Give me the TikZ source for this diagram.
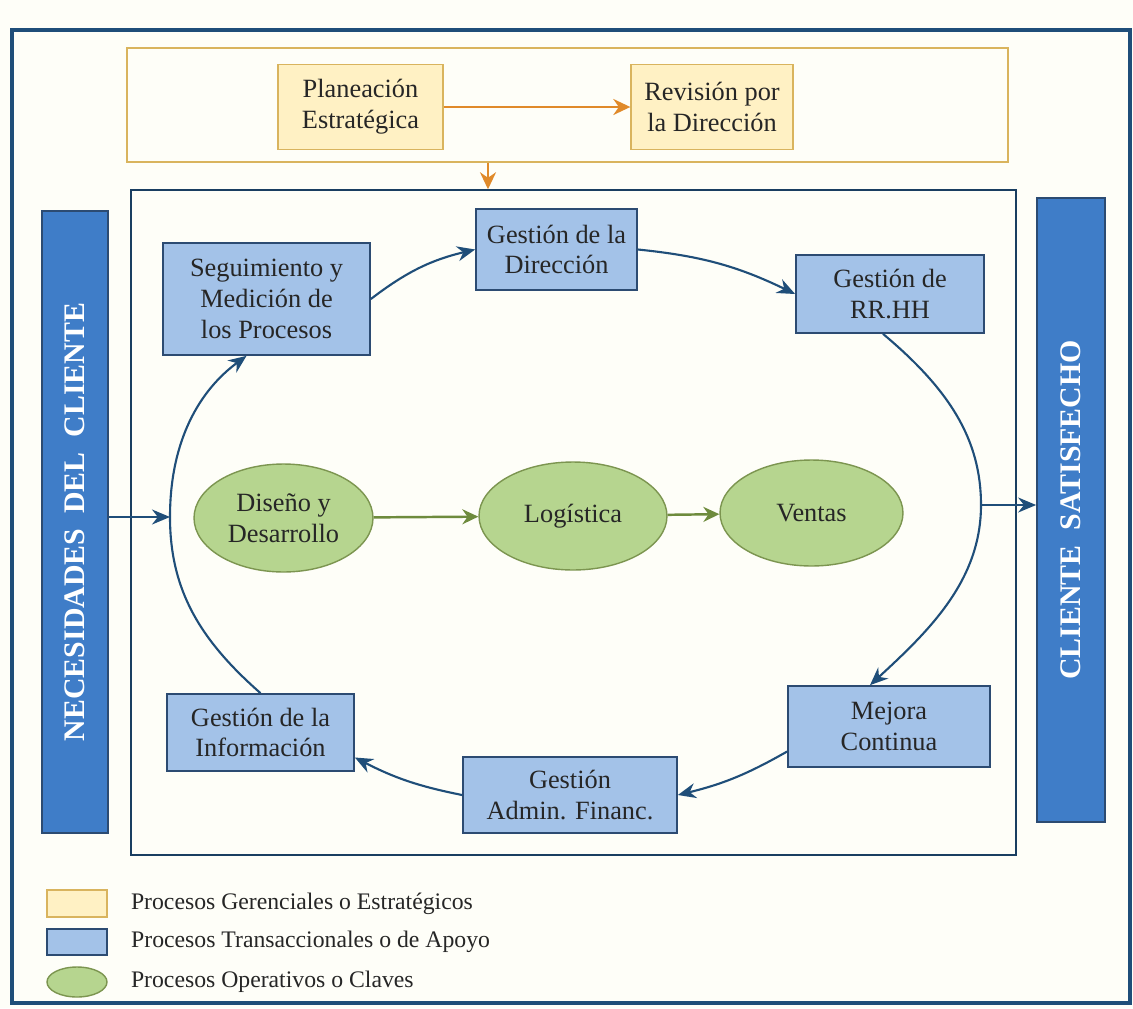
\documentclass[tikz,border=0pt]{standalone}
\usepackage{fontspec}
\setmainfont{Liberation Serif}
\usetikzlibrary{arrows.meta,positioning,shapes.geometric}

\definecolor{marcoazul}{HTML}{1F4E79}
\definecolor{oro}{HTML}{D9B45E}
\definecolor{crema}{HTML}{FFF1C4}
\definecolor{naranja}{HTML}{E08A2A}
\definecolor{azulclaro}{HTML}{A3C2E8}
\definecolor{azulborde}{HTML}{2C4B72}
\definecolor{azulbarra}{HTML}{3F7DC8}
\definecolor{verde}{HTML}{B6D58F}
\definecolor{verdeborde}{HTML}{7C9550}
\definecolor{verdeflecha}{HTML}{6E8B3D}
\definecolor{fondo}{HTML}{FEFEF8}
\definecolor{tinta}{HTML}{262626}

\tikzset{
	gerencial/.style={draw=oro, fill=crema, line width=0.8pt, align=center, inner sep=0pt,
		text=tinta, font=\fontsize{15}{17.5}\selectfont},
	apoyo/.style={draw=azulborde, fill=azulclaro, line width=1pt, align=center, inner sep=0pt,
		text=tinta, font=\fontsize{15}{17.5}\selectfont},
	clave/.style={ellipse, draw=verdeborde, fill=verde, line width=0.8pt, align=center, inner sep=0pt,
		text=tinta, font=\fontsize{15}{17.5}\selectfont},
	cliente/.style={draw=azulborde, fill=azulbarra, line width=1pt, rotate=90, text=white,
		font=\fontsize{17}{19}\selectfont\bfseries},
	marco/.style={draw, inner sep=0pt},
	flujo/.style={draw=marcoazul, line width=1.2pt, -{Stealth[length=0.36cm, width=0.3cm]}},
	flujoverde/.style={draw=verdeflecha, line width=1.4pt, -{Stealth[length=0.32cm, width=0.3cm]}},
	flujonaranja/.style={draw=naranja, line width=1.5pt, -{Stealth[length=0.34cm, width=0.32cm]}},
	leyenda/.style={inner sep=0pt, text=tinta, font=\fontsize{13.5}{15}\selectfont},
}

\begin{document}
\begin{tikzpicture}[x=0.02cm, y=0.02cm]
	\useasboundingbox (0,0) rectangle (1133,-1008);
	\fill[fondo] (0,0) rectangle (1133,-1008);
	\draw[marcoazul, line width=1.8pt] (12,-30) rectangle (1130,-1003);

	% procesos gerenciales
	\node[marco, draw=oro, line width=0.8pt, minimum width=17.62cm, minimum height=2.28cm] (gerencia) at (567.5,-105) {};
	\node[gerencial, minimum width=3.3cm, minimum height=1.7cm] (plan) at (360.5,-107) {Planeación\\Estratégica};
	\node[gerencial, minimum width=3.24cm, minimum height=1.7cm] (rev) at (712,-107) {Revisión por\\la Dirección};
	\draw[flujonaranja] (plan) -- (rev);

	% marco de procesos
	\node[marco, draw=marcoazul!80!black, line width=0.9pt, minimum width=17.7cm, minimum height=13.3cm] (interno) at (573.5,-522.5) {};
	\coordinate (baja) at (488,0);
	\draw[flujonaranja] (baja |- gerencia.south) -- (baja |- interno.north);

	% clientes
	\node[cliente, minimum width=12.44cm, minimum height=1.32cm] (nec) at (75,-522) {NECESIDADES\ \ DEL\ \ CLIENTE};
	\node[cliente, minimum width=12.48cm, minimum height=1.36cm] (sat) at (1071,-510) {CLIENTE\ \ SATISFECHO};

	% procesos de apoyo
	\node[apoyo, minimum width=4.14cm, minimum height=2.24cm] (seg) at (266.5,-299) {Seguimiento y\\Medición de\\los Procesos};
	\node[apoyo, minimum width=3.22cm, minimum height=1.62cm] (dir) at (556.5,-249.5) {Gestión de la\\Dirección};
	\node[apoyo, minimum width=3.76cm, minimum height=1.56cm] (rrhh) at (890,-294) {Gestión de\\RR.HH};
	\node[apoyo, minimum width=4.04cm, minimum height=1.62cm] (mejora) at (889,-726.5) {Mejora\\Continua};
	\node[apoyo, minimum width=4.28cm, minimum height=1.52cm] (admin) at (570,-795) {Gestión\\Admin. Financ.};
	\node[apoyo, minimum width=3.74cm, minimum height=1.54cm] (info) at (260.5,-732.5) {Gestión de la\\Información};

	% procesos claves
	\node[clave, minimum width=3.58cm, minimum height=2.16cm] (dis) at (283.5,-518) {Diseño y\\Desarrollo};
	\node[clave, minimum width=3.76cm, minimum height=2.16cm] (log) at (573,-516) {Logística};
	\node[clave, minimum width=3.66cm, minimum height=2.12cm] (ven) at (811.5,-513) {Ventas};
	\draw[flujoverde] (dis) -- (log);
	\draw[flujoverde] (log) -- (ven);

	% ciclo
	\coordinate (oeste) at (170,-517);
	\coordinate (este) at (981,-505);
	\draw[flujo] (seg.east) to[bend left=12] (dir.west);
	\draw[flujo] (dir.east) to[bend left=10] (rrhh.west);
	\draw[flujo] ([xshift=-0.14cm]rrhh.south) .. controls (950,-390) and (981,-440) .. (este)
		.. controls (981,-580) and (930,-630) .. ([xshift=-0.38cm]mejora.north);
	\draw[flujo] ([yshift=-0.5cm]mejora.west) to[bend left=8] (admin.east);
	\draw[flujo] (admin.west) to[bend left=8] ([yshift=-0.5cm]info.east);
	\draw[flujo] (info.north) .. controls (200,-640) and (170,-590) .. (oeste)
		.. controls (170,-440) and (200,-390) .. ([xshift=-0.4cm]seg.south);
	\draw[flujo] (nec.south |- oeste) -- (oeste);
	\draw[flujo] (este) -- (sat.north |- este);

	% leyenda
	\node[gerencial, minimum width=1.2cm, minimum height=0.54cm] (leyger) at (77,-903.5) {};
	\node[apoyo, minimum width=1.2cm, minimum height=0.52cm] (leyapo) at (77,-942) {};
	\node[clave, minimum width=1.2cm, minimum height=0.6cm] (leycla) at (77,-982) {};
	\node[leyenda, right=0.46cm of leyger] (tger) {Procesos Gerenciales o Estratégicos};
	\node[leyenda, right=0.46cm of leyapo] (tapo) {Procesos Transaccionales o de Apoyo};
	\node[leyenda, right=0.46cm of leycla] (tcla) {Procesos Operativos o Claves};
\end{tikzpicture}
\end{document}
